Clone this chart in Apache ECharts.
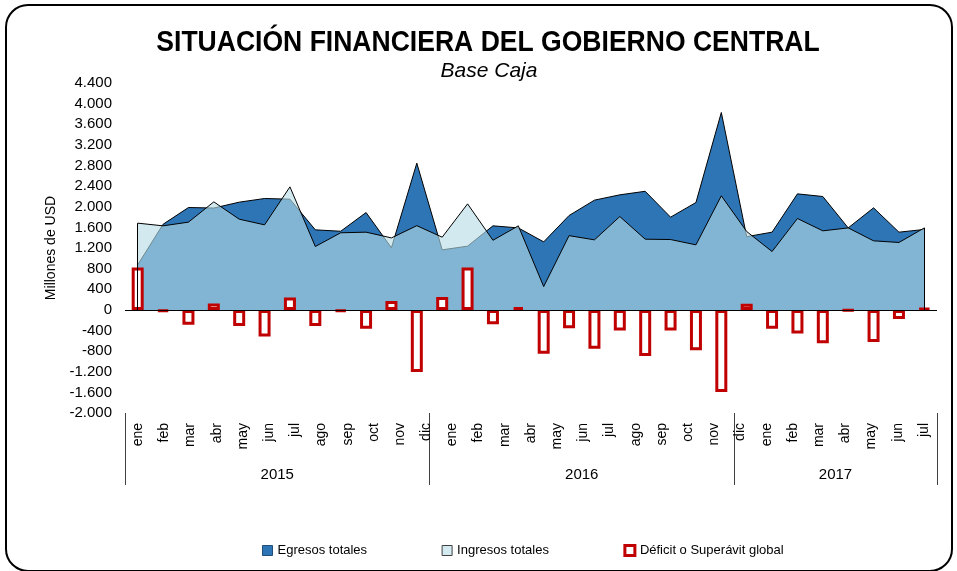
<!DOCTYPE html>
<html>
<head>
<meta charset="utf-8">
<script src="https://cdn.jsdelivr.net/npm/echarts@6/dist/echarts.min.js"></script>
<style>
html,body{margin:0;padding:0;background:#fff;}
#c{width:957px;height:571px;}
</style>
</head>
<body>
<div id="c"></div>
<script>
// ---- data ----
const categories = [
  '2015-01','2015-02','2015-03','2015-04','2015-05','2015-06','2015-07','2015-08','2015-09','2015-10','2015-11','2015-12',
  '2016-01','2016-02','2016-03','2016-04','2016-05','2016-06','2016-07','2016-08','2016-09','2016-10','2016-11','2016-12',
  '2017-01','2017-02','2017-03','2017-04','2017-05','2017-06','2017-07','2017-08'
];
const egresos = [873, 1660, 1985, 1975, 2089, 2160, 2147, 1552, 1525, 1888, 1205, 2846,
                 1164, 1236, 1630, 1590, 1319, 1830, 2128, 2231, 2300, 1798, 2082, 3828,
                 1420, 1507, 2250, 2199, 1590, 1979, 1507, 1560];
const ingresos = [1682, 1630, 1701, 2095, 1759, 1649, 2386, 1229, 1495, 1507, 1396, 1633,
                  1410, 2056, 1350, 1630, 452, 1440, 1358, 1810, 1371, 1364, 1261, 2212,
                  1520, 1132, 1772, 1533, 1590, 1339, 1307, 1590];
const deficit = [820, -30, -290, 125, -315, -515, 240, -315, -30, -365, 170, -1205,
                 250, 820, -280, 50, -850, -355, -755, -400, -895, -400, -785, -1595,
                 120, -365, -460, -645, -10, -625, -175, 30];
// tick labels as printed on the original axis
const monthLabels = ['ene','feb','mar','abr','may','jun','jul','ago','sep','oct','nov','dic',
                     'ene','feb','mar','abr','may','jun','jul','ago','sep','oct','nov','dic',
                     'ene','feb','mar','abr','may','jun','jul'];
const yearLabels = ['2015','2016','2017'];
const yearSizes = [12, 12, 8];
const yTicks = {min: -2000, max: 4400, step: 400};
const seriesNames = ['Egresos totales','Ingresos totales','Déficit o Superávit global'];

// ---- derived axis positions ----
const yearBounds = [-0.5];
const yearCenters = [];
yearSizes.forEach(function(n){
  const s = yearBounds[yearBounds.length-1];
  yearCenters.push(s + n/2);
  yearBounds.push(s + n);
});

const FONT = 'Liberation Sans, Arial, sans-serif';
function fmt(v){
  const s = Math.abs(v).toString().replace(/\B(?=(\d{3})+(?!\d))/g, '.');
  return (v < 0 ? '-' : '') + s;
}

const chart = echarts.init(document.getElementById('c'), null, {renderer:'canvas'});
chart.setOption({
  animation: false,
  backgroundColor: '#fff',
  textStyle: {fontFamily: FONT},
  graphic: [
    {type:'rect', silent:true, z:-1,
     shape:{x:6, y:5, width:946, height:566, r:22},
     style:{fill:'none', stroke:'#000', lineWidth:2}},
    {type:'text', silent:true, x:488, y:43, scaleX:0.915,
     style:{text:'SITUACIÓN FINANCIERA DEL GOBIERNO CENTRAL', fill:'#000',
            font:'bold 29px ' + FONT, textAlign:'center', textVerticalAlign:'middle'}},
    {type:'text', silent:true, x:489, y:71,
     style:{text:'Base Caja', fill:'#000',
            font:'italic 21px ' + FONT, textAlign:'center', textVerticalAlign:'middle'}}
  ],
  grid: {left:125, right:20, top:83, bottom:158},
  legend: {
    left: 257, top: 539, itemGap: 74.5, itemWidth: 10, itemHeight: 10,
    textStyle: {fontSize: 13, color:'#000', fontFamily: FONT},
    selectedMode: false,
    data: [
      {name: seriesNames[0], icon:'rect', itemStyle:{color:'#2E75B6', borderColor:'#1F4E79', borderWidth:1}},
      {name: seriesNames[1], icon:'rect', itemStyle:{color:'#D2EAF0', borderColor:'#404040', borderWidth:1}},
      {name: seriesNames[2], icon:'rect', itemStyle:{color:'#fff', borderColor:'#C00000', borderWidth:3}}
    ]
  },
  xAxis: [
    {type:'category', data: categories, boundaryGap:true, show:false},
    {type:'category', data: monthLabels, boundaryGap:true, position:'bottom',
     axisLine:{show:false}, axisTick:{show:false}, splitLine:{show:false},
     axisLabel:{rotate:90, margin:10, interval:0, fontSize:14, color:'#000', fontFamily:FONT}},
    {type:'value', min: yearBounds[0], max: yearBounds[yearBounds.length-1], position:'bottom',
     axisLine:{show:false}, splitLine:{show:false},
     axisTick:{show:true, customValues: yearBounds, length:72, lineStyle:{color:'#404040', width:1}},
     axisLabel:{customValues: yearCenters, margin:54, fontSize:15, color:'#000', fontFamily:FONT,
       formatter: function(v){
         for (let i=0;i<yearCenters.length;i++){ if (Math.abs(v-yearCenters[i])<1e-6) return yearLabels[i]; }
         return '';
       }}}
  ],
  yAxis: {
    type:'value', min: yTicks.min, max: yTicks.max, interval: yTicks.step,
    axisLine:{show:false}, axisTick:{show:false}, splitLine:{show:false},
    axisLabel:{formatter: fmt, fontSize:15, color:'#000', margin:13, fontFamily:FONT},
    name:'Millones de USD', nameLocation:'middle', nameGap:66, nameRotate:90,
    nameTextStyle:{fontSize:14, color:'#000', fontFamily:FONT}
  },
  series: [
    {name: seriesNames[0], type:'line', xAxisIndex:0, data: egresos,
     symbol:'none', showSymbol:false, z:1,
     lineStyle:{color:'#000', width:1},
     itemStyle:{color:'#2E75B6'},
     areaStyle:{color:'#2E75B6', opacity:1}},
    {name: seriesNames[1], type:'line', xAxisIndex:0, data: ingresos,
     symbol:'none', showSymbol:false, z:2,
     lineStyle:{color:'#000', width:1},
     itemStyle:{color:'#D2EAF0'},
     areaStyle:{color:'rgb(181,220,229)', opacity:0.625},
     markLine:{silent:true, symbol:['none','none'], label:{show:false},
       lineStyle:{color:'#000', width:1, type:'solid'},
       data:[
         [{coord:[categories[0], 0]}, {coord:[categories[0], ingresos[0]]}],
         [{coord:[categories[categories.length-1], 0]}, {coord:[categories[categories.length-1], ingresos[ingresos.length-1]]}]
       ]}},
    {name: seriesNames[2], type:'bar', xAxisIndex:0, data: deficit,
     barWidth:12, z:3,
     itemStyle:{color:'#fff', borderColor:'#C00000', borderWidth:3},
     markLine:{silent:true, symbol:['none','none'], label:{show:false},
       lineStyle:{color:'#000', width:1, type:'solid'},
       data:[{yAxis:0}]}}
  ]
});
</script>
</body>
</html>
